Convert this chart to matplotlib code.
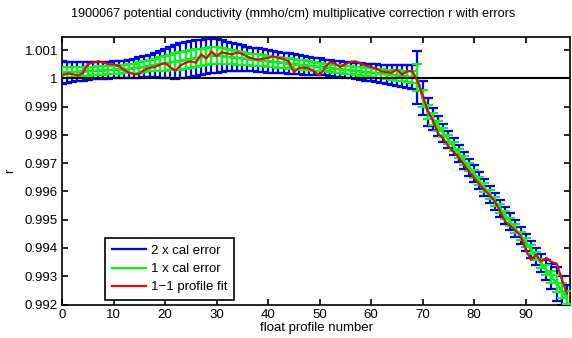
import matplotlib
matplotlib.use("Agg")
import matplotlib.pyplot as plt
from matplotlib.lines import Line2D

plt.rcParams['font.family'] = ['Liberation Sans', 'DejaVu Sans']

profile_no = list(range(0, 99))

cal_fit = [
    1.00020, 1.00021, 1.00022, 1.00023, 1.00024, 1.00025, 1.00026, 1.00027, 1.00028, 1.00029,
    1.00030, 1.00031, 1.00032, 1.00033, 1.00035, 1.00038, 1.00041, 1.00044, 1.00047, 1.00050,
    1.00053, 1.00056, 1.00059, 1.00062, 1.00065, 1.00068, 1.00071, 1.00074, 1.00077, 1.00080,
    1.00080, 1.00078, 1.00076, 1.00074, 1.00072, 1.00070, 1.00068, 1.00066, 1.00064, 1.00062,
    1.00060, 1.00058, 1.00056, 1.00054, 1.00052, 1.00050, 1.00048, 1.00046, 1.00044, 1.00042,
    1.00040, 1.00038, 1.00036, 1.00034, 1.00032, 1.00030, 1.00028, 1.00026, 1.00024, 1.00022,
    1.00020, 1.00018, 1.00016, 1.00014, 1.00012, 1.00010, 1.00008, 1.00006, 1.00004, 1.00002,
    0.99930, 0.99880, 0.99856, 0.99831, 0.99807, 0.99783, 0.99759, 0.99734, 0.99710, 0.99686,
    0.99662, 0.99637, 0.99613, 0.99589, 0.99565, 0.99540, 0.99516, 0.99492, 0.99468, 0.99443,
    0.99419, 0.99395, 0.99371, 0.99346, 0.99322, 0.99298, 0.99274, 0.99249, 0.99225,
]

cal_err = [
    0.00020, 0.00019, 0.00018, 0.00017, 0.00016, 0.00016, 0.00015, 0.00015, 0.00015, 0.00015,
    0.00015, 0.00015, 0.00015, 0.00016, 0.00017, 0.00018, 0.00019, 0.00020, 0.00022, 0.00024,
    0.00026, 0.00028, 0.00030, 0.00031, 0.00032, 0.00032, 0.00032, 0.00031, 0.00031, 0.00031,
    0.00030, 0.00028, 0.00026, 0.00025, 0.00024, 0.00023, 0.00022, 0.00021, 0.00021, 0.00020,
    0.00020, 0.00019, 0.00019, 0.00018, 0.00018, 0.00018, 0.00017, 0.00017, 0.00016, 0.00015,
    0.00015, 0.00014, 0.00014, 0.00014, 0.00014, 0.00014, 0.00014, 0.00014, 0.00015, 0.00015,
    0.00015, 0.00016, 0.00016, 0.00017, 0.00017, 0.00018, 0.00019, 0.00020, 0.00021, 0.00047,
    0.00030, 0.00025, 0.00020, 0.00018, 0.00016, 0.00015, 0.00015, 0.00015, 0.00015, 0.00015,
    0.00015, 0.00015, 0.00015, 0.00015, 0.00015, 0.00015, 0.00015, 0.00015, 0.00015, 0.00015,
    0.00015, 0.00015, 0.00015, 0.00016, 0.00018, 0.00022, 0.00030, 0.00026, 0.00022,
]

profile_fit = [
    1.00010, 1.00017, 1.00015, 1.00010, 1.00018, 1.00050, 1.00055, 1.00060, 1.00056, 1.00050,
    1.00049, 1.00045, 1.00030, 1.00020, 1.00014, 1.00016, 1.00030, 1.00037, 1.00040, 1.00048,
    1.00054, 1.00040, 1.00026, 1.00046, 1.00055, 1.00060, 1.00055, 1.00085, 1.00070, 1.00095,
    1.00078, 1.00092, 1.00088, 1.00084, 1.00092, 1.00086, 1.00076, 1.00070, 1.00066, 1.00069,
    1.00072, 1.00078, 1.00072, 1.00068, 1.00060, 1.00022, 1.00037, 1.00038, 1.00034, 1.00024,
    1.00010, 1.00036, 1.00058, 1.00052, 1.00040, 1.00050, 1.00058, 1.00060, 1.00052, 1.00045,
    1.00040, 1.00034, 1.00024, 1.00022, 1.00020, 1.00031, 1.00013, 1.00025, 1.00025, 0.99990,
    0.99940, 0.99885, 0.99850, 0.99805, 0.99787, 0.99760, 0.99740, 0.99720, 0.99695, 0.99670,
    0.99648, 0.99625, 0.99605, 0.99586, 0.99565, 0.99530, 0.99495, 0.99478, 0.99462, 0.99443,
    0.99395, 0.99358, 0.99376, 0.99352, 0.99365, 0.99350, 0.99345, 0.99290, 0.99239,
]

title = "1900067 potential conductivity (mmho/cm) multiplicative correction r with errors"
legend_labels = ["2 x cal error", "1 x cal error", "1\u22121 profile fit"]
xticks = [0, 10, 20, 30, 40, 50, 60, 70, 80, 90]
yticks = [0.992, 0.993, 0.994, 0.995, 0.996, 0.997, 0.998, 0.999, 1.0, 1.001]
ytick_labels = ["0.992", "0.993", "0.994", "0.995", "0.996", "0.997", "0.998", "0.999", "1", "1.001"]

W, H = 572, 338
fig = plt.figure(figsize=(W / 100, H / 100), dpi=100)
ax = fig.add_axes([62 / W, 1 - 304.5 / H, (570 - 62) / W, (304.5 - 37) / H])

two_err = [2 * e for e in cal_err]
ax.errorbar(profile_no, cal_fit, yerr=two_err, color=(0, 0, 1), lw=1.5, elinewidth=1.6,
            capsize=3.5, capthick=1.6, zorder=2)
ax.errorbar(profile_no, cal_fit, yerr=cal_err, color=(0, 1, 0), lw=1.5, elinewidth=1.5,
            capsize=3.5, capthick=1.5, zorder=3)
ax.axhline(1.0, color='black', lw=1.5, zorder=4)
ax.plot(profile_no, profile_fit, color=(0.85, 0.05, 0.05), lw=1.6, zorder=5)

ax.set_xlim(0, 98.6)
ax.set_ylim(0.992, 1.00146)
ax.set_xticks(xticks)
ax.set_yticks(yticks)
ax.set_yticklabels(ytick_labels)
ax.tick_params(direction='in', length=4, width=1.2, top=True, right=True, labelsize=9.5, pad=3)
for s in ax.spines.values():
    s.set_linewidth(1.2)

ax.set_xlabel("float profile number", fontsize=9.5, labelpad=1)
ax.set_ylabel("r", fontsize=9.5, labelpad=6)
fig.text(293 / W, 1 - 14 / H, title, ha='center', va='center', fontsize=9.1)

handles = [Line2D([], [], color=(0, 0, 1), lw=1.6),
           Line2D([], [], color=(0, 1, 0), lw=1.6),
           Line2D([], [], color=(0.85, 0.05, 0.05), lw=1.6)]
leg = ax.legend(handles, legend_labels, loc='lower left',
                bbox_to_anchor=((105 - 62) / 508, (304.5 - 300) / 267.5),
                fontsize=9.5, frameon=True, fancybox=False, framealpha=1,
                edgecolor='black', handlelength=2.6, handletextpad=0.4,
                labelspacing=0.45, borderpad=0.5, borderaxespad=0)
leg.get_frame().set_linewidth(1.2)
leg.set_zorder(10)

fig.savefig("out.png", dpi=100)
